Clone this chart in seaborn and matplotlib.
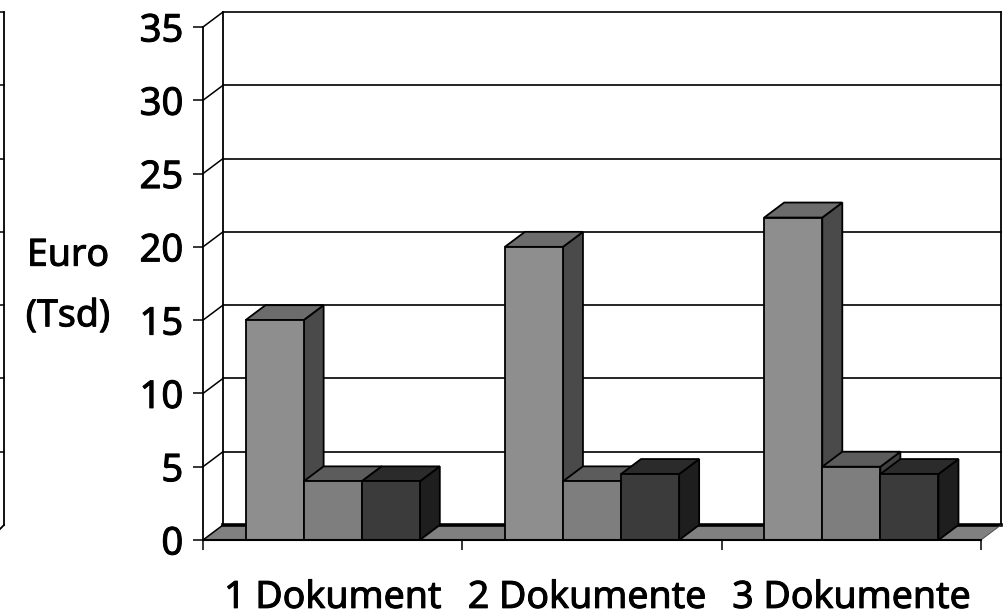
# -*- coding: utf-8 -*-
import matplotlib
matplotlib.use('Agg')
import matplotlib.pyplot as plt
import matplotlib.patheffects as pe
import pandas as pd
import seaborn as sns
from matplotlib.colors import to_hex
from matplotlib.patches import Polygon
from matplotlib.transforms import ScaledTranslation

# --- DATA ---
categories = ["1 Dokument", "2 Dokumente", "3 Dokumente"]
series_names = ["A", "B", "C"]
series_a = [15, 20, 22]
series_b = [4, 4, 5]
series_c = [4, 4.5, 4.5]
y_ticks = [0, 5, 10, 15, 20, 25, 30, 35]

front_colors = ["#8e8e8e", "#7e7e7e", "#3b3b3b"]
top_colors = ["#6c6c6c", "#5c5c5c", "#2b2b2b"]
side_colors = ["#4a4a4a", "#3f3f3f", "#1e1e1e"]

W, H = 1006, 613
LEFT, RIGHT, BOTTOM, TOP = 203, 981, 540, 27   # front plane, pixels
DEPTH_X, DEPTH_Y = 20, 15                      # 3D offset, pixels

sns.set_theme(style="white")
plt.rcParams['font.family'] = ['Noto Sans', 'DejaVu Sans']

df = pd.DataFrame({
    "cat": categories * 3,
    "serie": [s for s in series_names for _ in categories],
    "wert": series_a + series_b + series_c,
})

fig = plt.figure(figsize=(W / 100, H / 100), dpi=100, facecolor="white")
ax = fig.add_axes([LEFT / W, 1 - BOTTOM / H, (RIGHT - LEFT) / W, (BOTTOM - TOP) / H])

sns.barplot(data=df, x="cat", y="wert", hue="serie", hue_order=series_names,
            order=categories, palette=front_colors, width=0.672, gap=0,
            saturation=1, legend=False, ax=ax, edgecolor="black", linewidth=1.3)
bars = sorted(ax.patches, key=lambda p: p.get_x())

ax.set_xlim(-0.5, 2.5)
ax.set_ylim(0, 35)
ax.patch.set_alpha(0)
for s in ax.spines.values():
    s.set_visible(False)

# Tiefe in Datenkoordinaten
px_x = 3 / (RIGHT - LEFT)
px_y = 35 / (BOTTOM - TOP)
dx = DEPTH_X * px_x
dy = DEPTH_Y * px_y
x0, x1 = -0.5, 2.5
line = dict(color="black", clip_on=False, solid_capstyle="projecting")

# Boden
ax.add_patch(Polygon([(x0, 0), (x0 + dx, dy), (x1 + dx, dy), (x1, 0)], closed=True,
                     facecolor="#808080", edgecolor="none", clip_on=False, zorder=1))

# Rueckwand mit Gitterlinien
for v in y_ticks:
    lw = 2.6 if v == 0 else 1.2
    ax.plot([x0 + dx, x1 + dx], [v + dy, v + dy], lw=lw, zorder=1.5, **line)
    ax.plot([x0, x0 + dx], [v, v + dy], lw=1.1, zorder=1.5, **line)
ax.plot([x0 + dx, x0 + dx], [dy, 35 + dy], lw=1.3, zorder=1.5, **line)
ax.plot([x1 + dx, x1 + dx], [dy, 35 + dy], lw=1.3, zorder=1.5, **line)
ax.plot([x1, x1 + dx], [0, dy], lw=0.6, color="#444444", clip_on=False, zorder=1.5)

# Rest des Nachbardiagramms am linken Bildrand
wall_x = x0 - (LEFT - 4) * px_x
edge_x = x0 - (LEFT + 6) * px_x
ax.plot([wall_x, wall_x], [dy, 35 + dy], lw=1.3, **line)
for v in y_ticks[1:]:
    ax.plot([edge_x, wall_x], [v + dy, v + dy], lw=1.1, **line)
ax.plot([edge_x, wall_x], [dy - 10 * px_y, dy], lw=1.3, **line)

# Balken: Seite und Deckel zu jeder Vorderseite
for i, bar in enumerate(bars):
    idx = front_colors.index(to_hex(bar.get_facecolor()))
    xa, xb = bar.get_x(), bar.get_x() + bar.get_width()
    h = bar.get_height()
    z = 3 + i
    bar.set_zorder(z + 0.2)
    bar.set_clip_on(False)
    side = Polygon([(xb, 0), (xb, h), (xb + dx, h + dy), (xb + dx, dy)], closed=True,
                   facecolor=side_colors[idx], edgecolor="black", lw=1.3, zorder=z, clip_on=False)
    top = Polygon([(xa, h), (xa + dx, h + dy), (xb + dx, h + dy), (xb, h)], closed=True,
                  facecolor=top_colors[idx], edgecolor="black", lw=1.3, zorder=z + 0.1, clip_on=False)
    ax.add_patch(side)
    ax.add_patch(top)

# Achsen vorne
ax.plot([x0, x0], [0, 35], lw=1.3, zorder=2, **line)
ax.plot([x0, x1], [0, 0], lw=1.5, zorder=30, **line)

ax.set_yticks(y_ticks)
ax.tick_params(axis="y", which="major", left=True, length=7.2, width=1.1, color="black",
               pad=7, labelsize=27.5, labelcolor="black")
ax.set_xticks([0, 1, 2])
ax.set_xticklabels(categories)
ax.set_xticks([-0.5, 0.5, 1.5, 2.5], minor=True)
ax.tick_params(axis="x", which="minor", bottom=True, length=7.2, width=1.1, color="black")
ax.tick_params(axis="x", which="major", bottom=False, length=0, pad=28, labelsize=27,
               labelcolor="black")
ax.set_xlabel("")
ax.set_ylabel("Euro\n(Tsd)", rotation=0, fontsize=27, color="black", linespacing=1.78,
              ha="center", va="center")
ax.yaxis.set_label_coords((68 - LEFT) / (RIGHT - LEFT), (BOTTOM - 286) / (BOTTOM - TOP))

# Schrift etwas kraeftiger, wie im Original
stroke = [pe.withStroke(linewidth=0.7, foreground="black")]
for t in ax.get_xticklabels() + ax.get_yticklabels() + [ax.yaxis.label]:
    t.set_path_effects(stroke)

# mittlere Beschriftung sitzt im Original etwas weiter links
lab = ax.get_xticklabels()[1]
lab.set_transform(lab.get_transform() + ScaledTranslation(-5 / 100, 0, fig.dpi_scale_trans))

fig.savefig("out.png", dpi=100)
plt.close(fig)
